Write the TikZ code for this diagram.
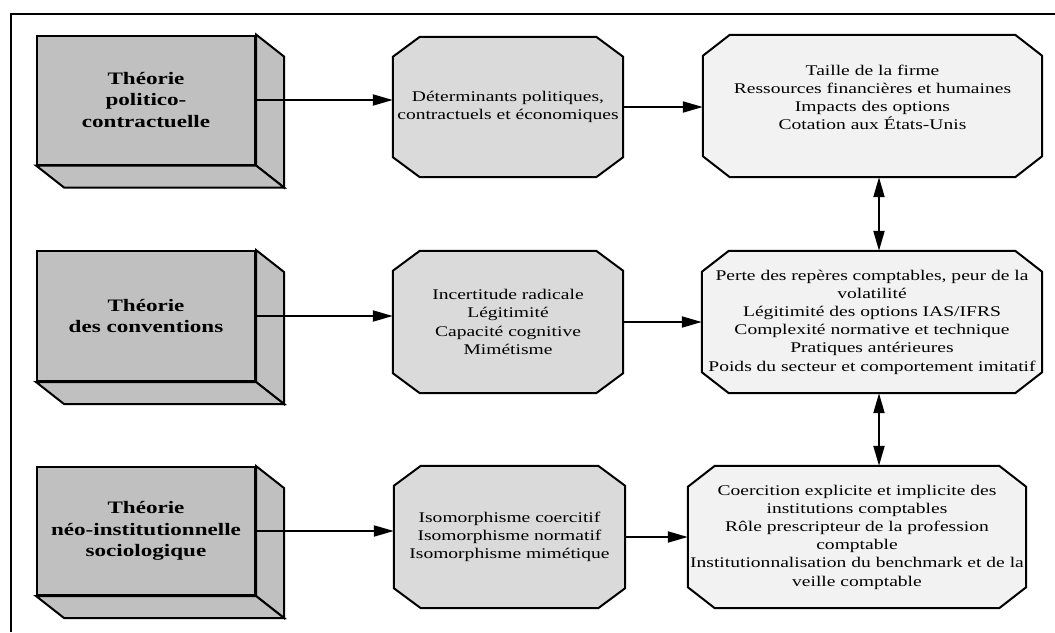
\documentclass[tikz,border=0pt]{standalone}
\usepackage{fontspec}
\setmainfont{Liberation Serif}[FakeStretch=1.32]
\usetikzlibrary{arrows.meta,backgrounds,calc}
\definecolor{boxgray}{HTML}{C0C0C0}
\definecolor{midgray}{HTML}{DADADA}
\definecolor{paleg}{HTML}{F2F2F2}
\tikzset{
  theory/.style={draw, line width=2pt, fill=boxgray, minimum width=218pt, inner sep=0pt, align=center, font=\fontsize{17.5}{21.5}\selectfont\bfseries},
  octbox/.style={inner sep=0pt, align=center, font=\fontsize{14.8}{18.2}\selectfont},
  face/.style={draw, line width=2pt, fill=boxgray, line join=miter},
  octline/.style={draw, line width=2pt, line join=miter},
  conn/.style={line width=2pt, -{Triangle[length=20pt,width=11pt]}},
  conntwo/.style={line width=2pt, {Triangle[length=20pt,width=11pt]}-{Triangle[length=20pt,width=11pt]}},
  frameline/.style={line width=2.2pt},
}
\newcommand\octdraw[4]{%
  \path[octline, fill=#2] ($(#1.north west)+(#3,0)$) -- ($(#1.north east)+(-#3,0)$) -- ($(#1.north east)+(0,#4)$) -- ($(#1.south east)+(0,-#4)$) -- ($(#1.south east)+(-#3,0)$) -- ($(#1.south west)+(#3,0)$) -- ($(#1.south west)+(0,-#4)$) -- ($(#1.north west)+(0,#4)$) -- cycle;}
\newcommand\boxdepth[1]{%
  \path[face] (#1.north east) -- ++(28,22) -- ($(#1.south east)+(28,22)$) -- (#1.south east) -- cycle;
  \path[face] (#1.south west) -- ++(28,22) -- ($(#1.south east)+(28,22)$) -- (#1.south east) -- cycle;}
\begin{document}
\begin{tikzpicture}[x=1pt,y=-1pt]
\useasboundingbox (0,0) rectangle (1055,632);
\draw[frameline] (1055,14) -- (11,14) -- (11,632);

% theory boxes
\node[theory, minimum height=129pt] (B1) at (146,100) {Théorie\\politico-\\contractuelle};
\node[theory, minimum height=130pt] (B2) at (146,316) {Théorie\\des conventions};
\node[theory, minimum height=128pt] (B3) at (146,531) {Théorie\\néo-institutionnelle\\sociologique};
\boxdepth{B1}
\boxdepth{B2}
\boxdepth{B3}

% middle octagons
\node[octbox, minimum width=230pt, minimum height=140pt] (M1) at (508,107) {Déterminants politiques,\\contractuels et économiques};
\node[octbox, minimum width=230pt, minimum height=142pt] (M2) at (508,322) {Incertitude radicale\\Légitimité\\Capacité cognitive\\Mimétisme};
\node[octbox, minimum width=231pt, minimum height=142pt] (M3) at (509.5,537) {Isomorphisme coercitif\\Isomorphisme normatif\\Isomorphisme mimétique};

% right octagons
\node[octbox, minimum width=339pt, minimum height=142pt] (R1) at (872.5,106) {Taille de la firme\\Ressources financières et humaines\\Impacts des options\\Cotation aux États-Unis\\[-6pt]\strut};
\node[octbox, minimum width=340pt, minimum height=142pt] (R2) at (872,322) {Perte des repères comptables, peur de la\\volatilité\\Légitimité des options IAS/IFRS\\Complexité normative et technique\\Pratiques antérieures\\Poids du secteur et comportement imitatif};
\node[octbox, minimum width=338pt, minimum height=142pt] (R3) at (857,537) {Coercition explicite et implicite des\\institutions comptables\\Rôle prescripteur de la profession\\comptable\\Institutionnalisation du benchmark et de la\\veille comptable};

\begin{pgfonlayer}{background}
  \octdraw{M1}{midgray}{27}{20}
  \octdraw{M2}{midgray}{27}{20}
  \octdraw{M3}{midgray}{27}{20}
  \octdraw{R1}{paleg}{27}{21}
  \octdraw{R2}{paleg}{27}{21}
  \octdraw{R3}{paleg}{27}{21}
\end{pgfonlayer}

% connectors
\coordinate (vx) at (879,0);
\draw[conn] (B1.east) -- (B1.east -| M1.west);
\draw[conn] (M1.east) -- (M1.east -| R1.west);
\draw[conn] (B2.east) -- (B2.east -| M2.west);
\draw[conn] (M2.east) -- (M2.east -| R2.west);
\draw[conn] (B3.east) -- (B3.east -| M3.west);
\draw[conn] (M3.east) -- (M3.east -| R3.west);
\draw[conntwo] (R1.south -| vx) -- (R2.north -| vx);
\draw[conntwo] (R2.south -| vx) -- (R3.north -| vx);
\end{tikzpicture}
\end{document}
